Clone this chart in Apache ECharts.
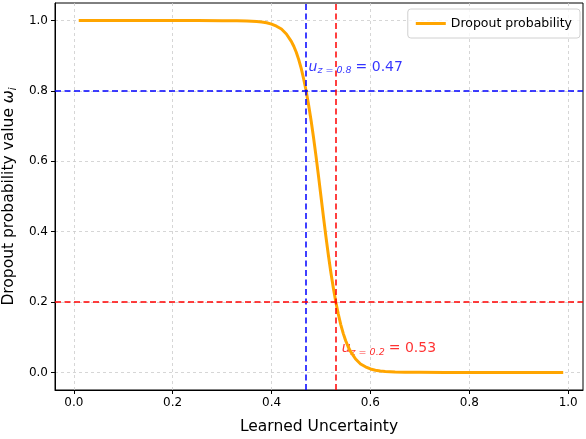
<!DOCTYPE html>
<html>
<head>
<meta charset="utf-8">
<script src="https://cdn.jsdelivr.net/npm/echarts@6/dist/echarts.min.js"></script>
<style>
  html, body { margin: 0; padding: 0; background: #fff; }
  #chart { width: 586px; height: 439px; }
</style>
</head>
<body>
<div id="chart"></div>
<script>
// uncertainty values (x) and dropout probability
const uncertainty = [0.01, 0.1, 0.2, 0.25, 0.3, 0.33, 0.35, 0.37, 0.38, 0.39, 0.40, 0.41, 0.42, 0.43, 0.44, 0.445, 0.45, 0.455,
  0.46, 0.465, 0.47, 0.475, 0.48, 0.485, 0.49, 0.495, 0.50, 0.505, 0.51, 0.515, 0.52, 0.525, 0.53, 0.535, 0.54, 0.545,
  0.55, 0.555, 0.56, 0.57, 0.58, 0.59, 0.60, 0.61, 0.62, 0.63, 0.65, 0.67, 0.70, 0.75, 0.80, 0.90, 0.99];
const dropoutProb = [1.0, 1.0, 1.0, 1.0, 0.9999, 0.9996, 0.999, 0.9975, 0.996, 0.994, 0.990, 0.984, 0.976, 0.962, 0.941, 0.927, 0.910, 0.889,
  0.864, 0.834, 0.800, 0.760, 0.716, 0.667, 0.614, 0.558, 0.500, 0.442, 0.386, 0.333, 0.284, 0.240, 0.200, 0.166, 0.136, 0.111,
  0.090, 0.073, 0.059, 0.038, 0.024, 0.016, 0.0098, 0.0062, 0.0039, 0.0025, 0.001, 0.0004, 0.0001, 0.0, 0.0, 0.0, 0.0];
const xTicks = [0.0, 0.2, 0.4, 0.6, 0.8, 1.0];
const yTicks = [0.0, 0.2, 0.4, 0.6, 0.8, 1.0];
// thresholds: z=0.8 -> u=0.47, z=0.2 -> u=0.53
const highZ = 0.8, highU = 0.47;
const lowZ = 0.2, lowU = 0.53;

const chart = echarts.init(document.getElementById('chart'));
const font = 'DejaVu Sans';

const dash = { type: [6, 3.5], width: 1.5 };

const subText = (color) => ({
  u: { fontStyle: 'italic', fontSize: 14, color: color, fontFamily: font },
  s: { fontStyle: 'italic', fontSize: 9.5, color: color, fontFamily: font, padding: [7, 4, 0, 0] },
  e: { fontSize: 14, color: color, fontFamily: font }
});

let option = {
  animation: false,
  grid: {
    left: 55, right: 3, top: 3, bottom: 49,
    outerBoundsMode: 'none',
    containLabel: false,
    show: true, borderColor: '#000', borderWidth: 1
  },
  legend: {
    data: ['Dropout probability'],
    right: 6, top: 9,
    icon: 'rect',
    itemWidth: 30, itemHeight: 3,
    itemGap: 8,
    padding: [8, 8],
    borderColor: '#d0d0d0', borderWidth: 1, borderRadius: 3,
    backgroundColor: 'rgba(255,255,255,0.8)',
    textStyle: { fontFamily: font, fontSize: 12.5, color: '#000' }
  },
  xAxis: {
    type: 'value',
    min: -0.038, max: 1.03,
    name: 'Learned Uncertainty',
    nameLocation: 'middle', nameGap: 29,
    nameTextStyle: { fontFamily: font, fontSize: 15.5, color: '#000' },
    axisLine: { show: true, onZero: false, lineStyle: { color: '#000' } },
    axisTick: { show: true, customValues: xTicks, length: 4, lineStyle: { color: '#000' } },
    axisLabel: { customValues: xTicks, formatter: v => v.toFixed(1), fontFamily: font, fontSize: 12, color: '#000', margin: 7 },
    splitLine: { show: true, lineStyle: { color: '#cccccc', type: [3, 3], width: 0.8 } }
  },
  yAxis: {
    type: 'value',
    min: -0.05, max: 1.05,
    name: 'Dropout probability value {w|ω}{i|i}',
    nameLocation: 'middle', nameGap: 37, nameRotate: 90,
    nameTextStyle: {
      fontFamily: font, fontSize: 15.5, color: '#000',
      rich: {
        w: { fontFamily: font, fontSize: 15.5, fontStyle: 'italic', color: '#000' },
        i: { fontFamily: font, fontSize: 10, fontStyle: 'italic', color: '#000', padding: [8, 0, 0, 0] }
      }
    },
    axisLine: { show: true, onZero: false, lineStyle: { color: '#000' } },
    axisTick: { show: true, customValues: yTicks, length: 4, lineStyle: { color: '#000' } },
    axisLabel: { customValues: yTicks, formatter: v => v.toFixed(1), fontFamily: font, fontSize: 12, color: '#000', margin: 7 },
    splitLine: { show: true, lineStyle: { color: '#cccccc', type: [3, 3], width: 0.8 } }
  },
  series: [
    {
      name: 'Dropout probability',
      type: 'line',
      data: uncertainty.map((u, i) => [u, dropoutProb[i]]),
      showSymbol: false,
      symbol: 'none',
      smooth: false,
      lineStyle: { color: '#FFA500', width: 3, join: 'round' },
      itemStyle: { color: '#FFA500' },
      z: 3,
      markLine: {
        silent: true,
        symbol: 'none',
        label: { show: false },
        data: [
          { xAxis: highU, lineStyle: Object.assign({ color: '#0000ff' }, dash) },
          { yAxis: highZ, lineStyle: Object.assign({ color: '#0000ff' }, dash) },
          { xAxis: lowU, lineStyle: Object.assign({ color: '#ff0000' }, dash) },
          { yAxis: lowZ, lineStyle: Object.assign({ color: '#ff0000' }, dash) }
        ]
      }
    },
    {
      type: 'scatter',
      symbolSize: 0,
      silent: true,
      data: [[highU + 0.005, 0.85]],
      label: {
        show: true, position: 'right', distance: 0, offset: [0, -6],
        formatter: '{u|u}{s|z = 0.8}{e|= 0.47}',
        rich: subText('#0000ff')
      }
    },
    {
      type: 'scatter',
      symbolSize: 0,
      silent: true,
      data: [[lowU + 0.012, 0.05]],
      label: {
        show: true, position: 'right', distance: 0, offset: [0, -6],
        formatter: '{u|u}{s|z = 0.2}{e|= 0.53}',
        rich: subText('#ff0000')
      }
    }
  ]
};

chart.setOption(option);
</script>
</body>
</html>
